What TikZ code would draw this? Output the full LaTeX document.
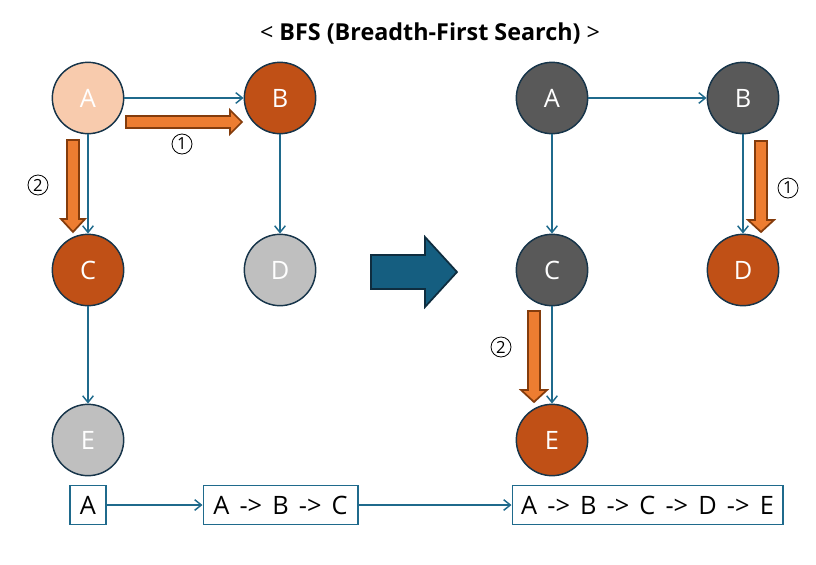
\documentclass[tikz,border=0pt]{standalone}
\usepackage{fontspec}
\setmainfont{Open Sans}
\usetikzlibrary{arrows.meta}
\newcommand\qarr{\hspace{0.4em}->\hspace{0.4em}}
\definecolor{peach}{HTML}{F8CBAD}
\definecolor{rust}{HTML}{C05016}
\definecolor{lgray}{HTML}{BFBFBF}
\definecolor{dgray}{HTML}{595959}
\definecolor{rim}{HTML}{17354A}
\definecolor{edgec}{HTML}{1F6A8C}
\definecolor{borange}{HTML}{ED7D31}
\definecolor{borangeline}{HTML}{843C0C}
\definecolor{bigblue}{HTML}{155E80}
\definecolor{bigblueline}{HTML}{0F2D3F}
\tikzset{
  vtx/.style={circle, draw=rim, line width=1.1pt, minimum size=53.5pt, inner sep=0pt, text=white, font=\fontsize{19}{19}\selectfont},
  edge/.style={draw=edgec, line width=1.1pt, -{Straight Barb[length=5pt,width=8pt,line width=1.1pt]}},
  qbox/.style={draw=edgec, line width=1pt, minimum height=29pt, inner sep=0pt, font=\fontsize{19}{19}\selectfont},
  blk/.style={fill=borange, draw=borangeline, line width=1.3pt, line join=miter},
  num/.style={circle, draw=black, line width=0.6pt, minimum size=15pt, inner sep=0pt, font=\fontsize{12.5}{12.5}\selectfont}
}
\begin{document}
\begin{tikzpicture}[x=0.75pt,y=-0.75pt]
\useasboundingbox (0,0) rectangle (816,564);
\node[font=\fontsize{17.5}{17.5}\selectfont] (title) at (430,33) {<\ \textbf{BFS (Breadth-First Search)}\ >};
% left graph
\node[vtx, fill=peach] (lA) at (88,98) {A};
\node[vtx, fill=rust] (lB) at (280,98) {B};
\node[vtx, fill=rust] (lC) at (88,270) {C};
\node[vtx, fill=lgray] (lD) at (280,270) {D};
\node[vtx, fill=lgray] (lE) at (88,440) {E};
\draw[edge] (lA) -- (lB);
\draw[edge] (lA) -- (lC);
\draw[edge] (lB) -- (lD);
\draw[edge] (lC) -- (lE);
% right graph
\node[vtx, fill=dgray] (rA) at (552,98) {A};
\node[vtx, fill=dgray] (rB) at (743,98) {B};
\node[vtx, fill=dgray] (rC) at (552,270) {C};
\node[vtx, fill=rust] (rD) at (743,270) {D};
\node[vtx, fill=rust] (rE) at (552,440) {E};
\draw[edge] (rA) -- (rB);
\draw[edge] (rA) -- (rC);
\draw[edge] (rB) -- (rD);
\draw[edge] (rC) -- (rE);
% orange block arrows
\draw[blk] (126,116) -- (230,116) -- (230,110) -- (242,122) -- (230,134) -- (230,128) -- (126,128) -- cycle;
\draw[blk] (67,140) -- (79,140) -- (79,219) -- (85,219) -- (73,232) -- (61,219) -- (67,219) -- cycle;
\draw[blk] (528,311) -- (540,311) -- (540,390) -- (547,390) -- (534,402) -- (521,390) -- (528,390) -- cycle;
\draw[blk] (755,141) -- (767,141) -- (767,220) -- (774,220) -- (761,232) -- (748,220) -- (755,220) -- cycle;
\node[num] (n1l) at (182,144) {1};
\node[num] (n2l) at (38,185) {2};
\node[num] (n2r) at (501,347) {2};
\node[num] (n1r) at (788,188) {1};
% big arrow
\draw[fill=bigblue, draw=bigblueline, line width=1.3pt] (371,255) -- (425,255) -- (425,237) -- (457,272) -- (425,307) -- (425,289) -- (371,289) -- cycle;
% bottom queue
\node[qbox, minimum width=27pt] (q1) at (88,505) {A};
\node[qbox, minimum width=116pt] (q2) at (280.5,505) {A\qarr B\qarr C};
\node[qbox, minimum width=203pt] (q3) at (647.5,505) {A\qarr B\qarr C\qarr D\qarr E};
\draw[edge] (q1) -- (q2);
\draw[edge] (q2) -- (q3);
\end{tikzpicture}
\end{document}
